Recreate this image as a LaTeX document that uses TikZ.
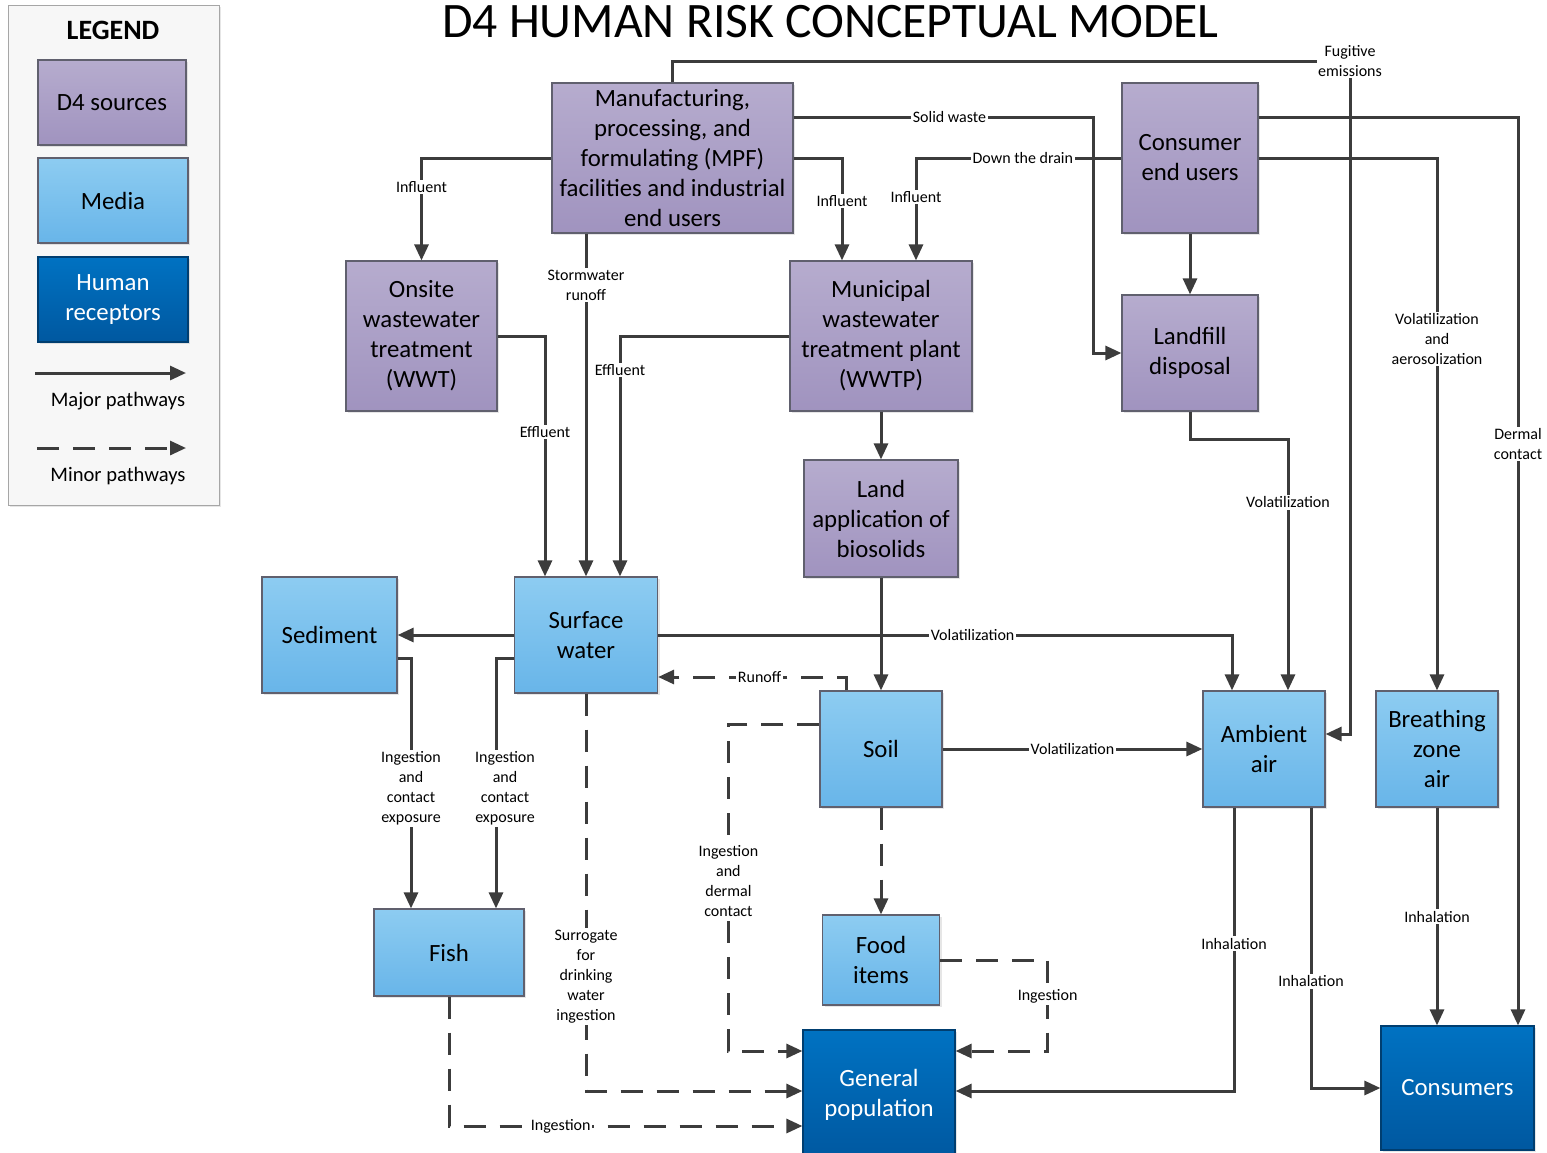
\documentclass[tikz,border=0pt]{standalone}
\usepackage{fontspec}
\setmainfont{Carlito}
\usetikzlibrary{arrows.meta,calc,shadows}
\definecolor{srctop}{RGB}{182,172,206}
\definecolor{srcbot}{RGB}{160,147,191}
\definecolor{medtop}{RGB}{141,204,241}
\definecolor{medbot}{RGB}{104,181,233}
\definecolor{rectop}{RGB}{0,114,194}
\definecolor{recbot}{RGB}{0,88,160}
\definecolor{linegray}{RGB}{60,60,60}
\definecolor{edgegray}{RGB}{96,96,110}
\tikzset{box/.style={draw=edgegray, line width=0.6pt, align=center, inner sep=0pt, font=\fontsize{12.4}{15}\selectfont, drop shadow={shadow xshift=1.2pt, shadow yshift=-1.2pt, opacity=0.2}}}
\tikzset{src/.style={box, top color=srctop, bottom color=srcbot}}
\tikzset{med/.style={box, top color=medtop, bottom color=medbot}}
\tikzset{rec/.style={box, top color=rectop, bottom color=recbot, text=white, draw=recbot!70!black}}
\tikzset{sz/.style 2 args={minimum width=#1*0.5pt, minimum height=#2*0.5pt}}
\tikzset{lbl/.style={fill=white, inner sep=0.8pt, align=center, font=\fontsize{8}{10}\selectfont}}
\tikzset{major/.style={draw=linegray, line width=1.5pt, -{Triangle[length=8pt,width=7pt]}}}
\tikzset{minor/.style={major, dash pattern=on 11pt off 7pt}}

\begin{document}
\begin{tikzpicture}[x=0.5pt, y=-0.5pt]
\useasboundingbox (0,0) rectangle (1547,1152);
\node[draw=black!35, fill=black!3, sz={211}{500}, drop shadow={shadow xshift=1.2pt, shadow yshift=-1.2pt, opacity=0.2}] (legend) at (113.5,255) {};
\node[font=\bfseries\fontsize{14}{17}\selectfont] (legendtitle) at (113,30) {LEGEND};
\node[src, sz={148}{85}] (keysrc) at (112,102.5) {D4 sources};
\node[med, sz={150}{85}] (keymed) at (113,200.5) {Media};
\node[rec, sz={150}{85}] (keyrec) at (113,299.5) {Human\\receptors};
\coordinate (majfrom) at (35,373);
\coordinate (majto) at (186,373);
\coordinate (minfrom) at (37,448);
\coordinate (minto) at (186,448);
\draw[major] (majfrom) -- (majto);
\draw[minor] (minfrom) -- (minto);
\node[font=\fontsize{10.3}{12}\selectfont] (majtext) at (118,401) {Major pathways};
\node[font=\fontsize{10.3}{12}\selectfont] (mintext) at (118,476) {Minor pathways};
\node[anchor=base, font=\fontsize{24.8}{30}\selectfont] (title) at (830.5,37) {D4 HUMAN RISK CONCEPTUAL MODEL};

\node[src, sz={241}{150}] (mpf) at (672.5,158) {Manufacturing,\\processing, and\\formulating (MPF)\\facilities and industrial\\end users};
\node[src, sz={136}{150}] (consumer) at (1190,158) {Consumer\\end users};
\node[src, sz={151}{150}] (onsite) at (421.5,336) {Onsite\\wastewater\\treatment\\(WWT)};
\node[src, sz={182}{150}] (wwtp) at (881,336) {Municipal\\wastewater\\treatment plant\\(WWTP)};
\node[src, sz={136}{116}] (landfill) at (1190,353) {Landfill\\disposal};
\node[src, sz={154}{117}] (landapp) at (881,518.5) {Land\\application of\\biosolids};
\node[med, sz={135}{116}] (sediment) at (329.5,635) {Sediment};
\node[med, sz={143}{116}] (surface) at (586,635) {Surface\\water};
\node[med, sz={122}{116}] (soil) at (881,749) {Soil};
\node[med, sz={122}{116}] (air) at (1264,749) {Ambient\\air};
\node[med, sz={122}{116}] (breathing) at (1437,749) {Breathing\\zone\\air};
\node[med, sz={150}{87}] (fish) at (449,952.5) {Fish};
\node[med, sz={117}{90}] (food) at (881,960) {Food\\items};
\node[rec, sz={152}{130}] (genpop) at (879,1095) {General\\population};
\node[rec, sz={153}{124}] (consumers) at (1457.5,1088) {Consumers};

\coordinate (fug) at (1350,61);
\draw[major] (mpf.north) |- (fug) node[lbl] {Fugitive\\emissions} |- ($(air.east)+(0,-15)$);
\draw[major] (mpf.west) -| node[lbl, pos=0.64] {Influent} (onsite.north);
\draw[major] (mpf.east) -| node[lbl, pos=0.71] {Influent} ($(wwtp.north)+(-39,0)$);
\draw[major] ($(mpf.east)+(0,-41)$) -| node[lbl, pos=0.26] {Solid waste} ($(landfill.west)+(-28,0)$) -- (landfill.west);
\draw[major] (consumer.west) -| node[lbl, pos=0.24] {Down the drain} node[lbl, pos=0.69] {Influent} ($(wwtp.north)+(35,0)$);
\draw[major] ($(consumer.east)+(0,-41)$) -| node[lbl, pos=0.68] {Dermal\\contact} ($(consumers.north)+(60.5,0)$);
\draw[major] (consumer.east) -| node[lbl, pos=0.67] {Volatilization\\and\\aerosolization} (breathing.north);
\draw[major] (consumer.south) -- (landfill.north);
\draw[major] (landfill.south) -- ++(0,28) -| node[lbl, pos=0.625] {Volatilization} ($(air.north)+(24,0)$);
\draw[major] (surface.north |- mpf.south) -- node[lbl, pos=0.15] {Stormwater\\runoff} (surface.north);
\draw[major] (onsite.east) -| node[lbl, pos=0.7] {Effluent} ($(surface.north)+(-41,0)$);
\draw[major] (wwtp.west) -| node[lbl, pos=0.57] {Effluent} ($(surface.north)+(34,0)$);
\draw[major] (wwtp.south) -- (landapp.north);
\draw[major] (landapp.south) -- (soil.north);
\draw[major] (surface.west) -- (sediment.east);
\draw[major] (surface.east) -| node[lbl, pos=0.274] {Volatilization} ($(air.north)+(-32,0)$);
\draw[minor] ($(soil.north)+(-35,0)$) |- node[lbl, pos=0.73] {Runoff} ($(surface.east)+(0,42)$);
\draw[minor] ($(soil.west)+(0,-25)$) -| node[lbl, pos=0.74] {Ingestion\\and\\dermal\\contact} ($(genpop.west)+(-74,-44)$) -- ($(genpop.west)+(0,-44)$);
\draw[major] (soil.east) -- node[lbl] {Volatilization} (air.west);
\draw[minor] (soil.south) -- (food.north);
\draw[minor] (food.east) -| node[lbl, pos=0.7] {Ingestion} ($(genpop.east)+(92,-44)$) -- ($(genpop.east)+(0,-44)$);
\draw[major] ($(air.south)+(-30,0)$) |- node[lbl, pos=0.24] {Inhalation} ($(genpop.east)+(0,-4)$);
\draw[major] ($(air.south)+(47,0)$) |- node[lbl, pos=0.31] {Inhalation} (consumers.west);
\draw[major] (breathing.south) -- node[lbl] {Inhalation} (breathing.south |- consumers.north);
\draw[major] ($(sediment.east)+(0,23)$) -| node[lbl, pos=0.76] {Ingestion\\and\\contact\\exposure} ($(fish.north)+(-38,0)$);
\draw[major] ($(surface.west)+(0,23)$) -| node[lbl, pos=0.76, xshift=4.5pt] {Ingestion\\and\\contact\\exposure} ($(fish.north)+(47,0)$);
\draw[minor] (surface.south) |- node[lbl, pos=0.356] {Surrogate\\for\\drinking\\water\\ingestion} ($(genpop.west)+(0,-4)$);
\draw[minor] (fish.south) |- node[lbl, pos=0.658] {Ingestion} ($(genpop.west)+(0,31)$);
\end{tikzpicture}
\end{document}
